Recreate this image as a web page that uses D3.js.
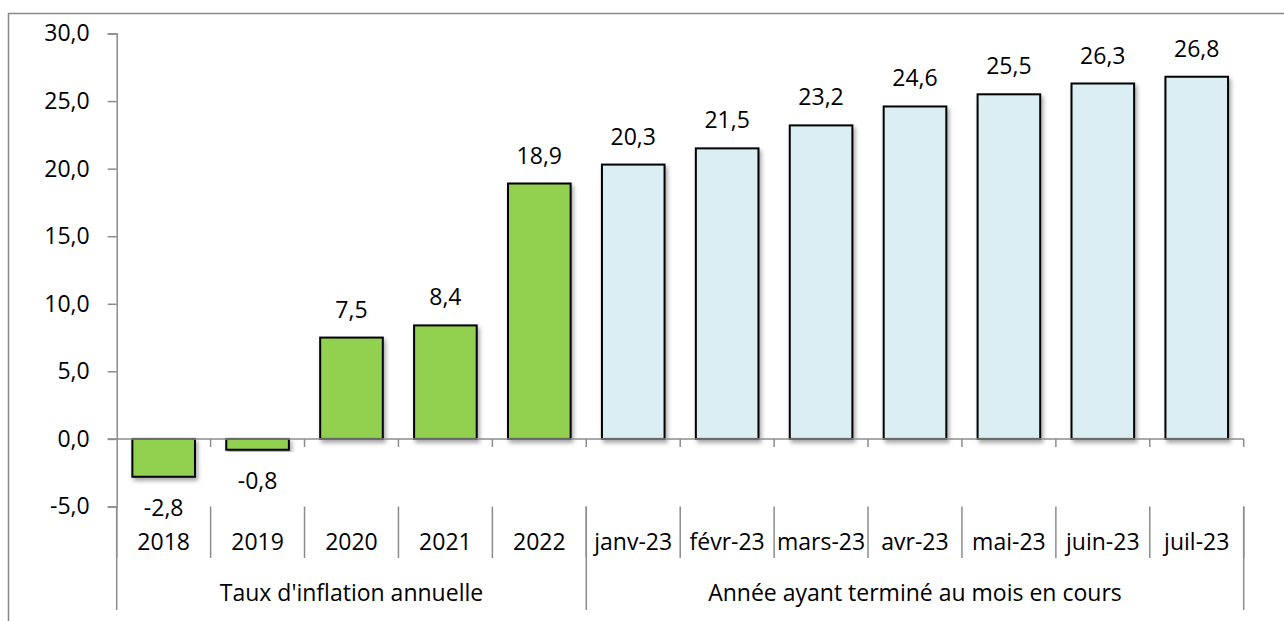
<!DOCTYPE html>
<html><head><meta charset="utf-8">
<script src="https://cdn.jsdelivr.net/npm/d3@7"></script>
<style>
html,body{margin:0;padding:0;background:#fff;}
svg{display:block;font-family:"Open Sans", Lato, sans-serif;}
</style></head>
<body>
<svg id="chart" width="1284" height="621"></svg>
<script>
const categories = ["2018","2019","2020","2021","2022","janv-23","févr-23","mars-23","avr-23","mai-23","juin-23","juil-23"];
const values = [-2.8,-0.8,7.5,8.4,18.9,20.3,21.5,23.2,24.6,25.5,26.3,26.8];
const groupNames = ["Taux d'inflation annuelle","Année ayant terminé au mois en cours"];
const groupSizes = [5,7];
const yTicks = [-5,0,5,10,15,20,25,30];
const groupColors = ["#92D050","#DAEEF3"];

const svg = d3.select("#chart");
const fmt = v => v.toFixed(1).replace(".", ",");
const axisColor = "#8c8c8c";
const fontSize = 23;
const fontFam = "'Open Sans', Lato, sans-serif";

// frame
svg.append("rect").attr("x",8.5).attr("y",13.5).attr("width",1400).attr("height",700)
  .attr("fill","none").attr("stroke","#888").attr("stroke-width",1.5);

const defs = svg.append("defs");
const f = defs.append("filter").attr("id","shadow").attr("x","-20%").attr("y","-20%").attr("width","140%").attr("height","140%");
f.append("feDropShadow").attr("dx",2).attr("dy",3).attr("stdDeviation",2).attr("flood-color","#000").attr("flood-opacity",0.35);

const x0 = 116.7, x1 = 1243.7;
const x = d3.scaleBand().domain(categories).range([x0,x1]).paddingInner(1/3).paddingOuter(1/6);
const y = d3.scaleLinear().domain([-5,30]).range([506.5,33.5]);

const groupOf = [];
groupSizes.forEach((s,gi)=>{ for(let i=0;i<s;i++) groupOf.push(gi); });

// bars
svg.append("g").selectAll("rect").data(values).join("rect")
  .attr("x",(d,i)=>x(categories[i]))
  .attr("width",x.bandwidth())
  .attr("y",d=>y(Math.max(0,d)))
  .attr("height",d=>Math.abs(y(d)-y(0)))
  .attr("fill",(d,i)=>groupColors[groupOf[i]])
  .attr("stroke","#000").attr("stroke-width",2)
  .attr("filter","url(#shadow)");

// y axis
const yAxis = d3.axisLeft(y).tickValues(yTicks).tickFormat(fmt).tickSize(9).tickPadding(18);
const ga = svg.append("g").attr("transform",`translate(${x0},0)`).call(yAxis);
ga.select(".domain").attr("stroke",axisColor).attr("stroke-width",1.5);
ga.selectAll(".tick line").attr("stroke",axisColor).attr("stroke-width",1.5);
ga.selectAll(".tick text").attr("font-size",fontSize).attr("fill","#000").attr("font-family",fontFam);

// zero line
const step = x.step();
const bounds = d3.range(categories.length+1).map(i=>x0 + i*step);
svg.append("line").attr("x1",x0-9).attr("x2",x1).attr("y1",y(0)).attr("y2",y(0))
  .attr("stroke",axisColor).attr("stroke-width",1.5);
svg.append("g").selectAll("line").data(bounds.slice(1)).join("line")
  .attr("x1",d=>d).attr("x2",d=>d).attr("y1",y(0)).attr("y2",y(0)+8)
  .attr("stroke",axisColor).attr("stroke-width",1.5);

// category separators
svg.append("g").selectAll("line").data(bounds).join("line")
  .attr("x1",d=>d).attr("x2",d=>d).attr("y1",y(-5)).attr("y2",558)
  .attr("stroke",axisColor).attr("stroke-width",1.5);
// group separators
const gb = [0]; groupSizes.reduce((a,s)=>{gb.push(a+s); return a+s;},0);
svg.append("g").selectAll("line").data(gb).join("line")
  .attr("x1",i=>bounds[i]).attr("x2",i=>bounds[i]).attr("y1",y(-5)).attr("y2",610)
  .attr("stroke",axisColor).attr("stroke-width",1.5);

// category labels
svg.append("g").selectAll("text").data(categories).join("text")
  .attr("x",d=>x(d)+x.bandwidth()/2).attr("y",550)
  .attr("text-anchor","middle").attr("font-size",fontSize).attr("fill","#000").text(d=>d);

// group labels
svg.append("g").selectAll("text").data(groupNames).join("text")
  .attr("x",(d,gi)=>(bounds[gb[gi]]+bounds[gb[gi+1]])/2).attr("y",601)
  .attr("text-anchor","middle").attr("font-size",fontSize).attr("fill","#000").text(d=>d);

// value labels
svg.append("g").selectAll("text").data(values).join("text")
  .attr("x",(d,i)=>x(categories[i])+x.bandwidth()/2)
  .attr("y",d=> d>=0 ? y(d)-20 : y(d)+39)
  .attr("text-anchor","middle").attr("font-size",fontSize).attr("fill","#000").text(fmt);
</script>
</body></html>
